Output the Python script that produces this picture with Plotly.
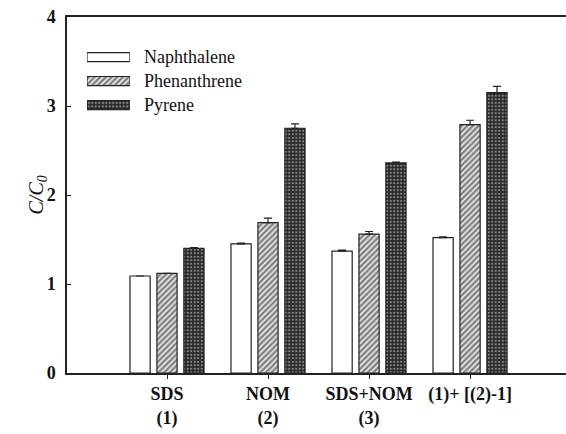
import plotly.graph_objects as go

# Sorption enhancement data: C/C0 for three PAHs under four solution conditions
categories = ["SDS<br>(1)", "NOM<br>(2)", "SDS+NOM<br>(3)", "(1)+ [(2)-1]"]
cat_pos = [1, 2, 3, 4]

naphthalene = [1.09, 1.45, 1.37, 1.52]
naphthalene_err = [0.0, 0.01, 0.01, 0.01]
phenanthrene = [1.12, 1.69, 1.56, 2.79]
phenanthrene_err = [0.0, 0.05, 0.03, 0.05]
pyrene = [1.40, 2.75, 2.36, 3.15]
pyrene_err = [0.01, 0.05, 0.01, 0.07]

series_names = ["Naphthalene", "Phenanthrene", "Pyrene"]
y_ticks = [0, 1, 2, 3, 4]

SERIF = "Liberation Serif"
LINE = "#222222"

styles = {
    "Naphthalene": dict(color="white", line=dict(color=LINE, width=1.2)),
    "Phenanthrene": dict(color="white", line=dict(color=LINE, width=1.2),
                         pattern=dict(shape="/", fgcolor="#111111", bgcolor="#eeeeee",
                                      size=4, solidity=0.6)),
    "Pyrene": dict(color="#2a2a2a", line=dict(color=LINE, width=1.2),
                   pattern=dict(shape=".", fgcolor="#e8e8e8", bgcolor="#262626",
                                size=3.5, solidity=0.35)),
}

values = {"Naphthalene": (naphthalene, naphthalene_err),
          "Phenanthrene": (phenanthrene, phenanthrene_err),
          "Pyrene": (pyrene, pyrene_err)}

fig = go.Figure()

for name in series_names:
    vals, errs = values[name]
    fig.add_trace(go.Bar(
        x=cat_pos, y=vals, name=name, width=0.2,
        marker=styles[name],
        error_y=dict(type="data", array=errs, arrayminus=[0] * len(errs),
                     symmetric=False, color=LINE, thickness=1.2, width=4),
        showlegend=False,
    ))

# Legend swatches: wide patterned bars on a small auxiliary axis pair
for i, name in enumerate(series_names):
    fig.add_trace(go.Bar(
        x=[1], y=[i], orientation="h", width=0.38,
        marker=styles[name], xaxis="x2", yaxis="y2", showlegend=False,
        hoverinfo="skip",
    ))
    fig.add_annotation(
        x=0.150, xref="paper", y=i, yref="y2", text=name, showarrow=False,
        xanchor="left", yanchor="middle",
        font=dict(family=SERIF, size=18, color="#111111"),
    )

fig.update_layout(
    width=566, height=434,
    margin=dict(l=67, r=0, t=17, b=61),
    paper_bgcolor="white", plot_bgcolor="white",
    barmode="group",
    xaxis=dict(
        range=[0.01, 4.95], tickvals=cat_pos, ticktext=categories,
        ticks="outside", ticklen=4, tickcolor=LINE,
        showline=True, linecolor=LINE, linewidth=1.5, mirror=True,
        showgrid=False, zeroline=False,
        tickfont=dict(family=SERIF, size=18, color="#111111", weight="bold"),
    ),
    yaxis=dict(
        range=[0, 4], tickvals=y_ticks,
        ticks="inside", ticklen=4, tickcolor=LINE,
        showline=True, linecolor=LINE, linewidth=1.5, mirror=False,
        showgrid=False, zeroline=False, ticklabelstandoff=6,
        tickfont=dict(family=SERIF, size=18, color="#111111", weight="bold"),
    ),
    xaxis2=dict(domain=[0.040, 0.126], range=[0, 1], visible=False,
                anchor="y2", fixedrange=True),
    yaxis2=dict(domain=[0.719, 0.921], range=[2.5, -0.5], visible=False,
                anchor="x2", fixedrange=True),
    showlegend=False,
)

# y-axis title, placed left of the plot area
fig.add_annotation(
    x=(22 - 67) / 499, xref="paper", y=(373 - 195) / 356, yref="paper",
    text="<i>C/C<sub>0</sub></i>", showarrow=False, textangle=-90,
    font=dict(family=SERIF, size=20, color="#111111"),
)

fig.write_html("out.html")
